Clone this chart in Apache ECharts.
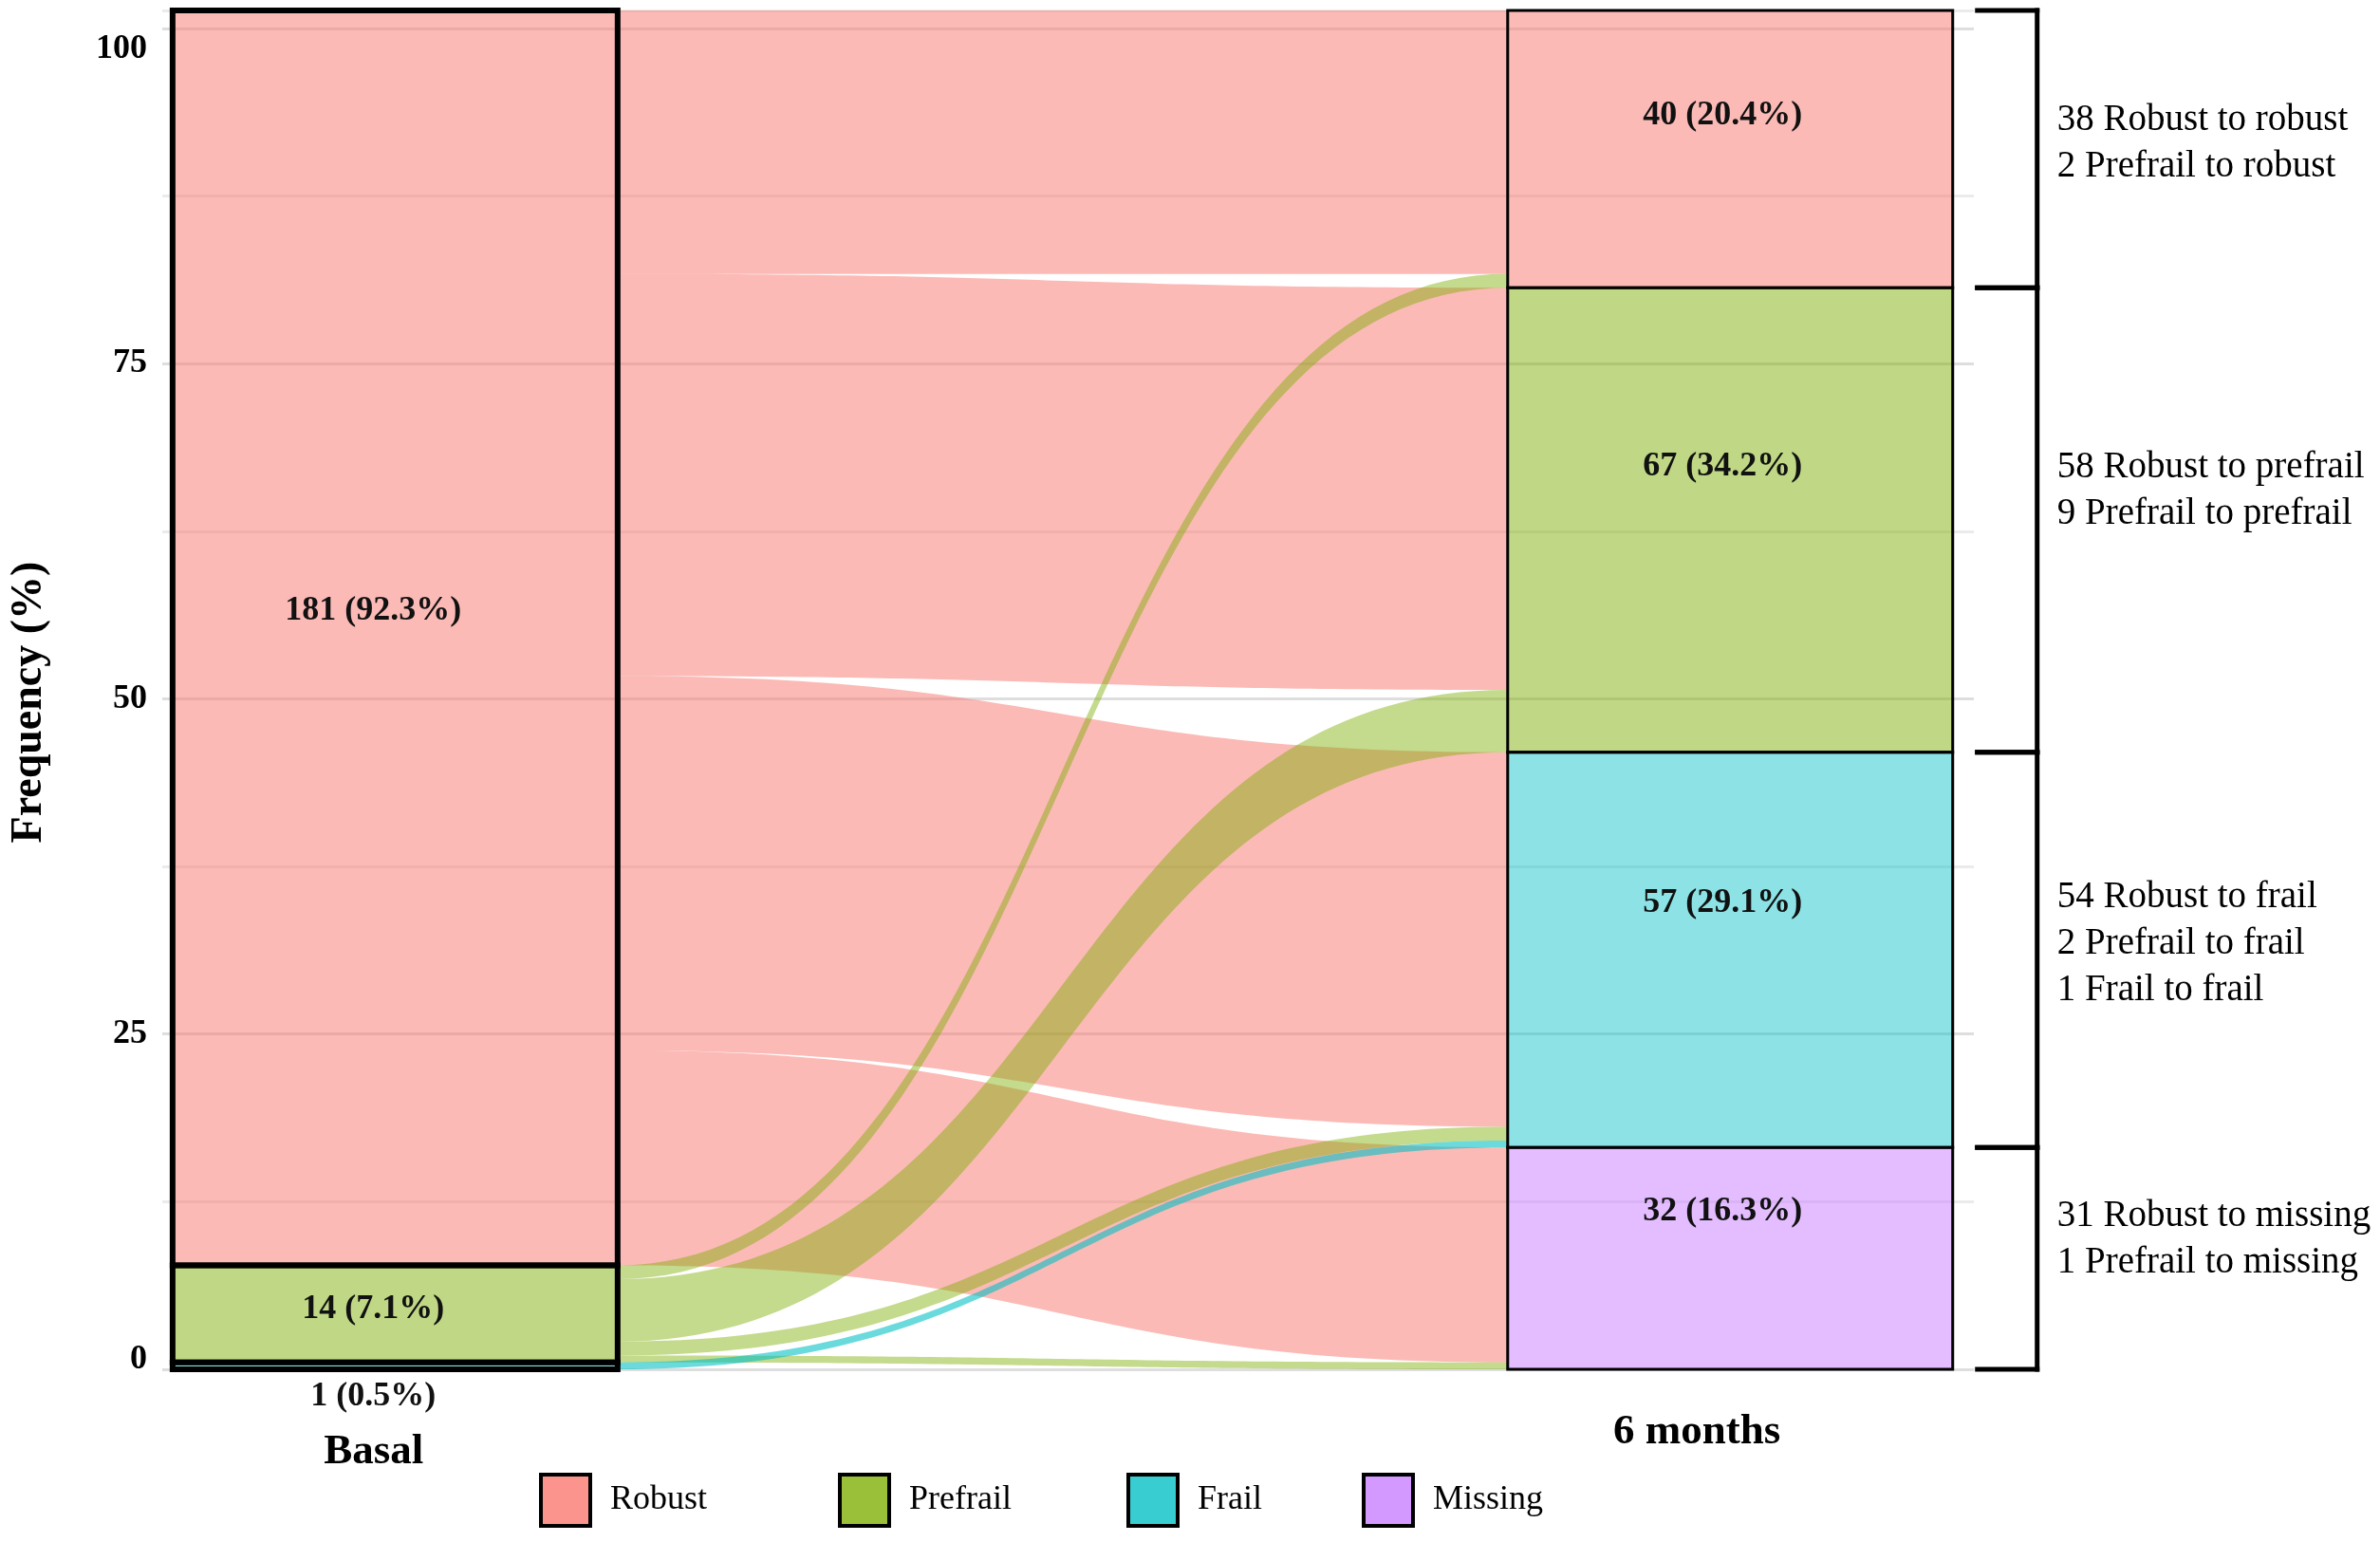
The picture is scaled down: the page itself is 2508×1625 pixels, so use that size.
<!DOCTYPE html>
<html><head><meta charset="utf-8">
<script src="https://cdn.jsdelivr.net/npm/echarts@6/dist/echarts.min.js"></script>
<style>html,body{margin:0;padding:0;background:#fff}#c{width:2508px;height:1625px}</style>
</head><body><div id="c"></div>
<script>
// ---------------- data ----------------
const stages = ['Basal', '6 months'];
const basalStates = ['Robust', 'Prefrail', 'Frail'];
const basalCounts = [181, 14, 1];
const followStates = ['Robust', 'Prefrail', 'Frail', 'Missing'];
const followCounts = [40, 67, 57, 32];
const flowSource = ['Robust', 'Robust', 'Robust', 'Robust', 'Prefrail', 'Prefrail', 'Prefrail', 'Prefrail', 'Frail'];
const flowTarget = ['Robust', 'Prefrail', 'Frail', 'Missing', 'Robust', 'Prefrail', 'Frail', 'Missing', 'Frail'];
const flowCount = [38, 58, 54, 31, 2, 9, 2, 1, 1];
const yTicks = [0, 25, 50, 75, 100];
const legendNames = ['Robust', 'Prefrail', 'Frail', 'Missing'];

// ---------------- styling ----------------
const FONT = "'Times New Roman', 'Liberation Serif', 'DejaVu Serif', serif";
const BASE = {Robust: [248, 118, 109], Prefrail: [124, 174, 0], Frail: [0, 191, 196], Missing: [199, 124, 255]};
const FILL_A = {Robust: 0.5, Prefrail: 0.48, Frail: 0.45, Missing: 0.5};
const FLOW_A = {Robust: 0.5, Prefrail: 0.45, Frail: 0.58};
// small pixel nudges of the annotation texts (style only)
const LABEL_DY = {'1:Robust': -29, '1:Prefrail': -5, '2:Robust': -35, '2:Prefrail': -56, '2:Frail': -49, '2:Missing': -49};
const LABEL_DX = {1: -23, 2: -8};
const BRACKET_DY = {Robust: -6, Prefrail: -31, Frail: -6, Missing: -20};
function rgba(name, a) { const c = BASE[name]; return `rgba(${c[0]},${c[1]},${c[2]},${a})`; }
function solid(name, a) { const c = BASE[name]; return `rgb(${c.map(v => Math.round(v * a + 255 * (1 - a))).join(',')})`; }
const BAR = 1 / 3;

// ---------------- layout derived from data ----------------
const total = basalCounts.reduce((a, b) => a + b, 0);
function stackTopDown(states, counts, col) {
  const out = {}; let top = total;
  states.forEach((s, i) => { out[s] = {col, hi: top, lo: top - counts[i], count: counts[i], name: s}; top -= counts[i]; });
  return out;
}
const leftStrata = stackTopDown(basalStates, basalCounts, 1);
const rightStrata = stackTopDown(followStates, followCounts, 2);
const flows = flowCount.map((n, i) => ({s: flowSource[i], t: flowTarget[i], n}));
const lCur = {}; basalStates.forEach(s => lCur[s] = leftStrata[s].hi);
flows.slice().sort((a, b) => basalStates.indexOf(a.s) - basalStates.indexOf(b.s) || followStates.indexOf(a.t) - followStates.indexOf(b.t))
  .forEach(f => { f.l0 = lCur[f.s]; f.l1 = lCur[f.s] - f.n; lCur[f.s] = f.l1; });
const rCur = {}; followStates.forEach(s => rCur[s] = rightStrata[s].hi);
flows.slice().sort((a, b) => followStates.indexOf(a.t) - followStates.indexOf(b.t) || basalStates.indexOf(a.s) - basalStates.indexOf(b.s))
  .forEach(f => { f.r0 = rCur[f.t]; f.r1 = rCur[f.t] - f.n; rCur[f.t] = f.r1; });
const drawFlows = flows.slice().sort((a, b) => basalStates.indexOf(a.s) - basalStates.indexOf(b.s));
const strata = [...Object.values(leftStrata), ...Object.values(rightStrata)];

function cubic(p0, p1, p2, p3, t) { const u = 1 - t; return u * u * u * p0 + 3 * u * u * t * p1 + 3 * u * t * t * p2 + t * t * t * p3; }
function curve(A, B, N) {
  const dx = B[0] - A[0], pts = [];
  for (let i = 0; i <= N; i++) {
    const t = i / N;
    pts.push([cubic(A[0], A[0] + 0.5 * dx, B[0] - 0.5 * dx, B[0], t), cubic(A[1], A[1], B[1], B[1], t)]);
  }
  return pts;
}

const chart = echarts.init(document.getElementById('c'), null, {renderer: 'canvas'});
const tickStyle = {fontFamily: FONT, fontWeight: 'bold', fontSize: 36, color: '#000'};

const option = {
  backgroundColor: '#ffffff',
  animation: false,
  grid: {left: 162, right: 428, top: 11, bottom: 182, containLabel: false},
  xAxis: {
    type: 'value', min: 0.8256, max: 2.1825,
    axisLine: {show: false}, axisTick: {show: false}, splitLine: {show: false},
    axisLabel: {
      customValues: [1, 2], margin: 44,
      formatter: v => `{s${Math.round(v) - 1}|${stages[Math.round(v) - 1]}}`,
      rich: {
        s0: {fontFamily: FONT, fontWeight: 'bold', fontSize: 45, color: '#000', padding: [21, 45, 0, 0]},
        s1: {fontFamily: FONT, fontWeight: 'bold', fontSize: 45, color: '#000', padding: [0, 70, 0, 0]}
      }
    }
  },
  yAxis: [
    {
      type: 'value', min: 0, max: 101.34, interval: 12.5,
      axisLine: {show: false}, axisTick: {show: false},
      axisLabel: {
        formatter: v => {
          if (yTicks.indexOf(v) < 0) return '';
          if (v === 100) return '{top|100}';
          if (v === 0) return '{bot|0}';
          return '{n|' + v + '}';
        },
        rich: {
          n: tickStyle,
          top: Object.assign({padding: [44, 0, 0, 0]}, tickStyle),
          bot: Object.assign({padding: [0, 0, 20, 0]}, tickStyle)
        },
        margin: 16
      },
      splitLine: {show: true, lineStyle: {color: ['#dedede', '#ebebeb'], width: 3}},
      name: 'Frequency (%)', nameLocation: 'middle', nameGap: 117, nameRotate: 90,
      nameTextStyle: {fontFamily: FONT, fontWeight: 'bold', fontSize: 46, color: '#000', padding: [0, 26, 0, 0]}
    },
    {type: 'value', min: 0, max: total, show: false}
  ],
  legend: legendNames.map((n, i) => ({
    data: [{name: n, itemStyle: {color: solid(n, 0.78), borderColor: '#000', borderWidth: 4}}],
    left: [563, 878, 1182, 1430][i], top: 1547,
    itemWidth: 52, itemHeight: 54, icon: 'rect', selectedMode: false,
    textStyle: {fontFamily: FONT, fontSize: 36, color: '#000', padding: [0, 0, 0, 16]}
  })),
  series: [
    ...legendNames.map(n => ({type: 'bar', name: n, data: [], itemStyle: {color: solid(n, 0.78)}})),
    {
      type: 'custom', name: 'flows', xAxisIndex: 0, yAxisIndex: 1, clip: false, z: 2,
      data: drawFlows.map(f => [1, f.l0, 2, f.r0]),
      renderItem: (params, api) => {
        const f = drawFlows[params.dataIndex];
        const xl = 1 + BAR / 2, xr = 2 - BAR / 2;
        const A = api.coord([xl, f.l0]), B = api.coord([xr, f.r0]);
        const C = api.coord([xr, f.r1]), D = api.coord([xl, f.l1]);
        const pts = curve(A, B, 80).concat(curve(C, D, 80));
        return {type: 'polygon', shape: {points: pts}, style: {fill: rgba(f.s, FLOW_A[f.s]), stroke: 'none'}};
      }
    },
    {
      type: 'custom', name: 'strata', xAxisIndex: 0, yAxisIndex: 1, clip: false, z: 3,
      data: strata.map(s => [s.col, s.lo, s.hi]),
      renderItem: (params, api) => {
        const s = strata[params.dataIndex];
        const p0 = api.coord([s.col - BAR / 2, s.hi]);
        const p1 = api.coord([s.col + BAR / 2, s.lo]);
        const h = p1[1] - p0[1];
        const lw = s.col === 1 ? 6 : 3;
        const pct = (s.count / total * 100).toFixed(1);
        const label = `${s.count} (${pct}%)`;
        let ly;
        if (h < 20) ly = p1[1] + 29;
        else ly = (p0[1] + p1[1]) / 2 + (LABEL_DY[s.col + ':' + s.name] || 0);
        return {
          type: 'group',
          children: [
            {type: 'rect', shape: {x: p0[0], y: p0[1], width: p1[0] - p0[0], height: h},
              style: {fill: rgba(s.name, FILL_A[s.name]), stroke: '#000', lineWidth: lw}},
            {type: 'text', z2: 10, style: {text: label, x: (p0[0] + p1[0]) / 2 + LABEL_DX[s.col], y: ly, align: 'center', verticalAlign: 'middle',
              fontFamily: FONT, fontWeight: 'bold', fontSize: 36, fill: '#111'}}
          ]
        };
      }
    },
    {
      type: 'custom', name: 'brackets', xAxisIndex: 0, yAxisIndex: 1, clip: false, z: 3,
      data: Object.values(rightStrata).map(s => [2, s.lo, s.hi]),
      renderItem: (params, api) => {
        const s = Object.values(rightStrata)[params.dataIndex];
        const top = api.coord([2 + BAR / 2, s.hi]);
        const bot = api.coord([2 + BAR / 2, s.lo]);
        const x0 = top[0] + 26, x1 = top[0] + 89;
        const ls = {stroke: '#000', lineWidth: 5, lineCap: 'square'};
        const lines = flows.filter(f => f.t === s.name)
          .sort((a, b) => basalStates.indexOf(a.s) - basalStates.indexOf(b.s))
          .map(f => `${f.n} ${f.s} to ${f.t.toLowerCase()}`);
        const mid = (top[1] + bot[1]) / 2 + BRACKET_DY[s.name];
        const children = [
          {type: 'line', shape: {x1: x0, y1: top[1], x2: x1, y2: top[1]}, style: ls},
          {type: 'line', shape: {x1: x0, y1: bot[1], x2: x1, y2: bot[1]}, style: ls},
          {type: 'line', shape: {x1: x1, y1: top[1], x2: x1, y2: bot[1]}, style: ls}
        ];
        lines.forEach((t, k) => children.push({
          type: 'text', style: {text: t, x: top[0] + 110, y: mid + (k - (lines.length - 1) / 2) * 49,
            align: 'left', verticalAlign: 'middle', fontFamily: FONT, fontSize: 39, fill: '#000'}
        }));
        return {type: 'group', children};
      }
    }
  ]
};
chart.setOption(option);
</script>
</body></html>
